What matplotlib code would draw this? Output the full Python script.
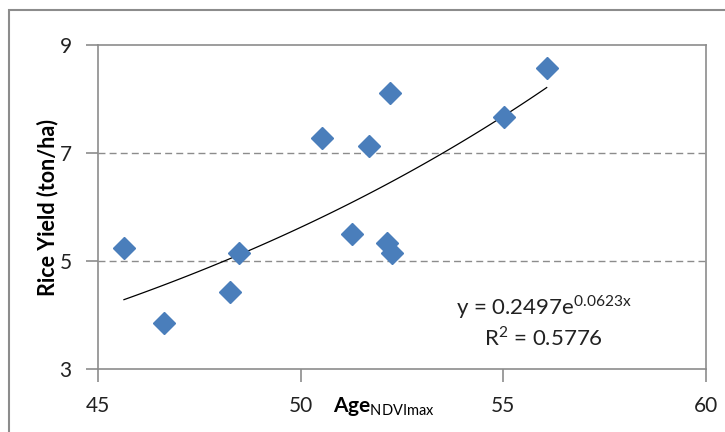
import matplotlib
matplotlib.use('Agg')
import matplotlib.pyplot as plt
import numpy as np
from matplotlib.patches import Rectangle

plt.rcParams['font.family'] = 'Lato'
plt.rcParams['mathtext.fontset'] = 'custom'
plt.rcParams['mathtext.rm'] = 'Lato'
plt.rcParams['mathtext.bf'] = 'Lato:bold'

# data
age = [45.64, 46.62, 48.25, 48.48, 50.52, 51.27, 51.68, 52.21, 52.12, 52.25, 55.02, 56.07]
rice_yield = [5.24, 3.86, 4.43, 5.15, 7.28, 5.50, 7.13, 8.12, 5.33, 5.15, 7.66, 8.57]

# exponential trendline coefficients (y = a * exp(b x))
fit_a = 0.2497
fit_b = 0.0623
r_squared = 0.5776

x_ticks = [45, 50, 55, 60]
y_ticks = [3, 5, 7, 9]

fig = plt.figure(figsize=(7.25, 4.32), dpi=100)
ax = fig.add_axes([98 / 725, 1 - 369.3 / 432, 608 / 725, 324.3 / 432])

# outer chart border
fig.patches.append(Rectangle((9 / 725, -0.1), 1.2, 1.1 - 10 / 432, transform=fig.transFigure,
                             fill=False, edgecolor='#8c8c8c', linewidth=1.5))

grey = '#8c8c8c'
for gy in [5, 7]:
    ax.axhline(gy, color=grey, linestyle=(0, (5, 3)), linewidth=1.0, zorder=1)

xs = np.linspace(min(age), max(age), 100)
ax.plot(xs, fit_a * np.exp(fit_b * xs), color='black', linewidth=0.9, zorder=2)

ax.plot(age, rice_yield, linestyle='none', marker='D', markersize=11,
        color='#4a7ebb', markeredgecolor='#4a7ebb', zorder=3)

ax.set_xlim(45, 60)
ax.set_ylim(3, 9)
ax.set_xticks(x_ticks)
ax.set_yticks(y_ticks)
for s in ax.spines.values():
    s.set_color(grey)
    s.set_linewidth(1.2)
ax.tick_params(axis='both', colors=grey, length=9, width=1.2, labelsize=15,
               labelcolor='#222222', pad=10)

ax.set_ylabel('Rice Yield (ton/ha)', fontsize=15.5, fontweight='bold')
ax.yaxis.set_label_coords(-0.066, 0.5)
ax.set_xlabel(r'$\mathbf{Age}_{\mathrm{NDVImax}}$', fontsize=15)
ax.xaxis.set_label_coords(0.47, -0.08)

ax.text(56.0, 4.15, r'y = 0.2497e$^{\mathrm{0.0623x}}$', fontsize=16, ha='center', va='center', color='#222222')
ax.text(56.0, 3.58, r'R$^2$ = %.4f' % r_squared, fontsize=16, ha='center', va='center', color='#222222')

fig.savefig('out.png', dpi=100)
